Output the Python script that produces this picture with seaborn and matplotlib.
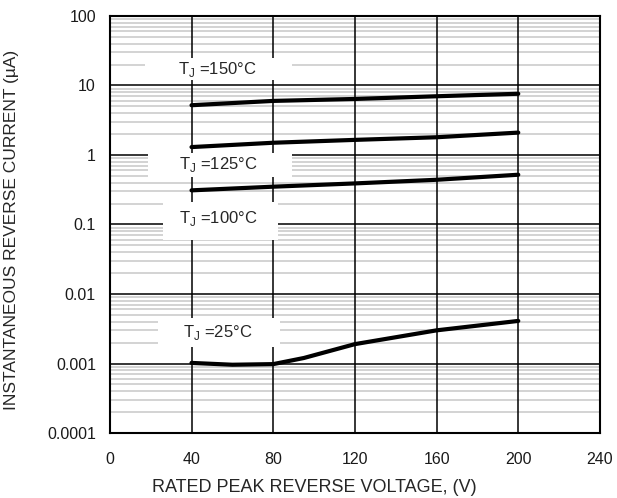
import seaborn as sns
import pandas as pd
import matplotlib.pyplot as plt
from matplotlib.patches import Rectangle
from matplotlib.ticker import FixedLocator, LogLocator, NullFormatter

# 讀圖估計的數值
v_150 = [40, 80, 120, 160, 200]
i_150 = [5.2, 6.0, 6.4, 7.0, 7.6]
v_125 = [40, 80, 120, 160, 200]
i_125 = [1.3, 1.5, 1.65, 1.8, 2.1]
v_100 = [40, 80, 120, 160, 200]
i_100 = [0.31, 0.35, 0.39, 0.44, 0.52]
v_25 = [40, 60, 80, 95, 120, 160, 200]
i_25 = [0.00102, 0.00096, 0.00098, 0.0012, 0.0019, 0.003, 0.0041]

x_ticks = [0, 40, 80, 120, 160, 200, 240]
y_ticks = [0.0001, 0.001, 0.01, 0.1, 1, 10, 100]
y_labels = ['0.0001', '0.001', '0.01', '0.1', '1', '10', '100']

df = pd.concat([
    pd.DataFrame({'V': v_150, 'I': i_150, 'T': '150'}),
    pd.DataFrame({'V': v_125, 'I': i_125, 'T': '125'}),
    pd.DataFrame({'V': v_100, 'I': i_100, 'T': '100'}),
    pd.DataFrame({'V': v_25, 'I': i_25, 'T': '25'}),
])

sns.set_style('white')
plt.rcParams['font.family'] = ['Liberation Sans', 'DejaVu Sans']
plt.rcParams['mathtext.fontset'] = 'custom'
plt.rcParams['mathtext.rm'] = 'Liberation Sans'

fig = plt.figure(figsize=(6.17, 4.98), dpi=100)
ax = fig.add_axes([0.178, 0.1305, 0.7944, 0.8374])

sns.lineplot(data=df, x='V', y='I', hue='T', palette=['black'] * 4,
             linewidth=3, legend=False, ax=ax, zorder=4, estimator=None, sort=False)

ax.set_yscale('log')
ax.set_xlim(0, 240)
ax.set_ylim(0.0001, 100)
ax.xaxis.set_major_locator(FixedLocator(x_ticks))
ax.yaxis.set_major_locator(FixedLocator(y_ticks))
ax.set_yticklabels(y_labels)
ax.yaxis.set_minor_locator(LogLocator(base=10, subs=range(2, 10), numticks=20))
ax.yaxis.set_minor_formatter(NullFormatter())
ax.tick_params(which='both', length=0, labelsize=11.5, colors='#1a1a1a')
ax.tick_params(axis='x', pad=14)
ax.tick_params(axis='y', pad=10)

ax.set_axisbelow(True)
ax.grid(which='minor', axis='y', color='#c8c8c8', linewidth=1.1)
ax.grid(which='major', color='black', linewidth=1.1)
ax.xaxis.set_zorder(0.6)  # 垂直黑線壓在灰線上
for s in ax.spines.values():
    s.set_color('black')
    s.set_linewidth(1.5)

ax.set_xlabel('RATED PEAK REVERSE VOLTAGE, (V)', fontsize=13, va='center')
ax.xaxis.set_label_coords(0.418, -0.1295)
ax.set_ylabel('INSTANTANEOUS REVERSE CURRENT (µA)', fontsize=12.5, va='center')
ax.yaxis.set_label_coords(-0.2, 0.487)

def tag(x0, y0, x1, y1, tx, ty, t):
    ax.add_patch(Rectangle((x0, y1), x1 - x0, y0 - y1, transform=ax.transAxes,
                           fc='white', ec='none', zorder=3))
    ax.text(tx, ty, 'T$_\\mathregular{J}$ =' + t + '°C', fontsize=12, ha='center', va='center',
            transform=ax.transAxes, zorder=5)

tag(0.0714, 0.8993, 0.3714, 0.8465, 0.2204, 0.8705, '150')
tag(0.0776, 0.6715, 0.3714, 0.6139, 0.2224, 0.6427, '125')
tag(0.1082, 0.5540, 0.3429, 0.4628, 0.2224, 0.5132, '100')
tag(0.0980, 0.2758, 0.3470, 0.2062, 0.2204, 0.2422, '25')

fig.savefig('out.png', dpi=100)
